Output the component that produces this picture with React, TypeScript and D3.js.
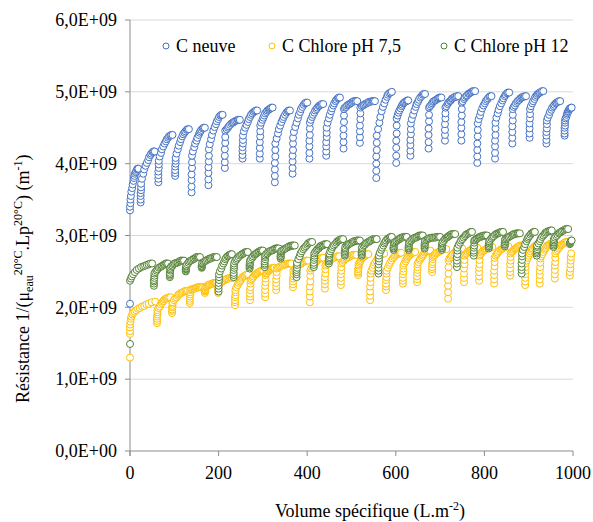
import React from "react";
import * as d3 from "d3";

// ---- data (volume in L.m-2, resistance in units of 1E7 m-1) ----
const seriesNames = ["C neuve", "C Chlore pH 7,5", "C Chlore pH 12"];
const seriesColors = ["#4472C4", "#FFC000", "#548235"];

const neuve: number[][][] = [
  [[0,205],[0,335],[0,340],[1,345],[1,350],[2,355],[3,361],[5,366],[6,371],[8,376],[9,380],[10,383],[11,386],[13,388],[14,390],[16,392],[17,393],[19,393]],
  [[24,346],[24,350],[24,355],[24,359],[25,363],[25,367],[25,372],[27,379],[30,386],[32,392],[35,397],[38,401],[41,405],[43,409],[46,412],[48,414],[51,416],[53,417],[56,417]],
  [[64,374],[64,379],[64,384],[64,389],[65,394],[65,399],[65,404],[67,410],[70,415],[72,420],[75,424],[78,428],[81,431],[83,434],[86,436],[88,438],[91,439],[93,440],[96,440]],
  [[102,383],[102,387],[102,391],[102,396],[103,400],[103,404],[103,408],[105,414],[108,420],[110,425],[113,430],[115,434],[118,438],[120,441],[123,443],[125,445],[128,447],[130,448],[133,448]],
  [[139,360],[139,368],[139,377],[139,385],[140,394],[140,402],[140,411],[142,417],[145,423],[147,428],[150,432],[152,436],[155,440],[157,443],[159,445],[161,447],[164,449],[166,450],[169,450]],
  [[177,370],[177,378],[177,387],[177,395],[178,403],[178,411],[178,420],[180,427],[183,434],[185,440],[188,446],[191,451],[194,455],[196,459],[199,462],[201,465],[204,467],[206,468],[209,468]],
  [[214,394],[214,402],[214,411],[214,420],[215,429],[215,437],[215,446],[218,448],[221,450],[223,452],[226,454],[229,456],[232,457],[234,458],[237,459],[240,460],[243,461],[245,461],[248,461]],
  [[254,407],[254,412],[254,418],[254,423],[255,428],[255,433],[255,439],[257,445],[260,450],[263,454],[266,458],[268,462],[271,465],[273,468],[276,470],[279,472],[282,473],[284,474],[287,474]],
  [[293,407],[293,414],[293,422],[293,430],[294,438],[294,445],[294,453],[296,457],[299,461],[301,464],[303,467],[305,470],[308,472],[310,474],[313,475],[315,476],[317,477],[319,478],[322,478]],
  [[327,374],[327,383],[327,392],[327,401],[328,410],[328,419],[328,428],[331,435],[334,442],[336,448],[339,453],[342,458],[345,462],[347,465],[350,468],[353,471],[356,473],[358,474],[361,474]],
  [[367,386],[367,394],[367,403],[367,411],[368,419],[368,428],[368,436],[370,444],[373,451],[376,457],[379,463],[381,468],[384,472],[386,476],[389,479],[392,482],[395,484],[397,485],[400,485]],
  [[405,407],[405,415],[405,424],[405,432],[406,440],[406,449],[406,457],[408,461],[411,465],[413,468],[416,471],[418,474],[421,476],[423,478],[426,480],[428,481],[431,482],[433,483],[436,483]],
  [[443,411],[443,417],[443,424],[443,430],[444,437],[444,443],[444,450],[446,457],[449,463],[451,468],[454,473],[456,477],[459,481],[461,484],[464,487],[466,489],[469,491],[471,492],[474,492]],
  [[482,421],[482,430],[482,439],[482,448],[483,458],[483,467],[483,476],[485,478],[488,479],[490,481],[493,482],[495,483],[498,484],[500,485],[503,486],[505,487],[508,487],[510,487],[513,487]],
  [[519,429],[519,437],[519,445],[519,453],[520,462],[520,470],[520,478],[523,480],[526,481],[528,482],[531,483],[534,484],[537,485],[539,486],[542,486],[545,487],[548,487],[550,487],[553,487]],
  [[556,380],[556,390],[556,400],[556,410],[557,419],[557,429],[557,439],[560,448],[563,457],[565,465],[568,473],[571,479],[574,484],[577,489],[580,493],[582,496],[585,498],[588,499],[591,500]],
  [[601,401],[601,411],[601,422],[601,432],[602,442],[602,453],[602,463],[604,467],[606,471],[608,474],[611,477],[613,480],[615,482],[617,484],[619,485],[621,486],[624,487],[626,488],[628,488]],
  [[633,411],[633,418],[633,426],[633,433],[634,441],[634,448],[634,456],[636,462],[639,468],[642,474],[645,479],[647,483],[650,486],[652,489],[655,492],[658,494],[661,496],[663,497],[666,497]],
  [[674,421],[674,430],[674,440],[674,449],[675,459],[675,468],[675,478],[677,480],[680,482],[682,484],[684,486],[686,487],[689,488],[691,489],[694,490],[696,491],[698,492],[700,492],[703,492]],
  [[711,432],[711,440],[711,447],[711,455],[712,463],[712,470],[712,478],[714,480],[717,483],[719,485],[722,487],[724,488],[726,490],[728,491],[731,492],[733,493],[736,493],[738,494],[741,494]],
  [[748,432],[748,441],[748,450],[748,458],[749,467],[749,476],[749,485],[751,487],[754,490],[756,492],[759,494],[761,495],[764,497],[766,498],[769,499],[771,500],[774,501],[776,501],[779,501]],
  [[784,401],[784,410],[784,419],[784,428],[785,438],[785,447],[785,456],[787,462],[790,467],[792,472],[795,477],[798,481],[801,484],[803,487],[806,489],[808,491],[811,493],[813,494],[816,494]],
  [[824,407],[824,415],[824,424],[824,432],[825,440],[825,449],[825,457],[827,464],[830,470],[832,475],[835,480],[838,484],[841,488],[843,491],[846,494],[848,496],[851,498],[853,499],[856,499]],
  [[863,428],[863,436],[863,444],[863,452],[864,460],[864,468],[864,476],[866,479],[869,481],[871,484],[874,486],[876,488],[879,489],[881,491],[884,492],[886,493],[889,493],[891,494],[894,494]],
  [[902,436],[902,442],[902,449],[902,456],[903,463],[903,469],[903,476],[905,480],[908,484],[910,487],[913,490],[915,493],[918,495],[920,497],[923,498],[925,499],[928,500],[930,501],[933,501]],
  [[940,428],[940,433],[940,439],[940,444],[941,449],[941,455],[941,460],[943,464],[946,468],[948,472],[951,475],[953,478],[956,480],[958,482],[961,484],[963,485],[966,486],[968,487],[971,487]],
  [[981,439],[981,442],[981,446],[981,450],[982,453],[982,457],[982,460],[983,463],[985,465],[986,468],[987,470],[988,472],[990,473],[991,475],[992,476],[993,477],[995,477],[996,478],[997,478]],
];

const chlore75: number[][][] = [
  [[0,130],[0,163],[0,167],[0,172],[0,176],[1,180],[2,184],[3,187],[5,190],[7,192],[10,194],[14,196],[18,198],[22,199],[27,201],[32,202],[37,204],[42,205],[49,207],[57,208]],
  [[61,178],[61,181],[61,184],[61,187],[62,190],[62,193],[62,196],[64,199],[67,201],[69,204],[72,206],[74,208],[76,209],[78,211],[81,212],[83,213],[86,213],[88,214],[91,214]],
  [[95,192],[95,195],[95,197],[95,200],[96,202],[96,205],[96,207],[99,210],[102,212],[105,214],[108,216],[110,218],[113,219],[116,220],[119,221],[122,222],[125,223],[128,223],[131,223]],
  [[135,206],[135,209],[135,212],[135,215],[136,218],[136,221],[136,224],[138,225],[141,225],[143,226],[146,226],[148,227],[150,227],[152,228],[155,228],[157,228],[160,228],[162,228],[165,228]],
  [[169,220],[169,222],[169,223],[169,224],[170,225],[170,227],[170,228],[172,229],[174,230],[176,231],[178,231],[180,232],[183,232],[185,233],[187,233],[189,234],[191,234],[193,234],[195,234]],
  [[199,220],[199,222],[199,224],[199,227],[200,229],[200,231],[200,233],[203,234],[206,235],[208,236],[211,237],[214,238],[217,239],[219,240],[222,240],[225,241],[228,241],[230,241],[233,241]],
  [[237,203],[237,207],[237,210],[237,214],[238,217],[238,221],[238,224],[240,228],[243,231],[245,234],[248,236],[250,238],[252,240],[254,242],[257,243],[259,244],[262,245],[264,246],[267,246]],
  [[271,210],[271,215],[271,219],[271,224],[272,228],[272,233],[272,237],[274,239],[277,241],[279,243],[282,245],[284,246],[286,247],[288,248],[291,249],[293,250],[296,251],[298,251],[301,251]],
  [[305,214],[305,219],[305,224],[305,230],[306,235],[306,240],[306,245],[307,247],[309,248],[311,250],[313,251],[314,252],[316,252],[317,253],[319,254],[321,255],[323,255],[324,255],[326,255]],
  [[330,224],[330,229],[330,234],[330,239],[331,244],[331,249],[331,254],[334,255],[337,256],[339,257],[342,258],[345,259],[348,259],[350,260],[353,260],[356,261],[359,261],[361,261],[364,261]],
  [[368,228],[368,232],[368,236],[368,240],[369,243],[369,247],[369,251],[372,253],[375,255],[377,257],[380,259],[383,260],[386,261],[388,262],[391,263],[394,264],[397,265],[399,265],[402,265]],
  [[406,207],[406,215],[406,222],[406,229],[407,236],[407,244],[407,251],[409,254],[412,256],[414,259],[417,261],[419,263],[421,264],[423,266],[426,267],[428,268],[431,268],[433,269],[436,269]],
  [[440,226],[440,232],[440,237],[440,242],[441,247],[441,253],[441,258],[443,260],[446,262],[448,264],[451,265],[454,267],[457,268],[459,269],[462,269],[464,270],[467,271],[469,271],[472,271]],
  [[476,231],[476,236],[476,241],[476,246],[477,251],[477,256],[477,261],[480,263],[483,265],[485,267],[488,268],[491,269],[494,270],[497,271],[500,272],[502,273],[505,273],[508,273],[511,273]],
  [[515,245],[515,248],[515,250],[515,253],[516,255],[516,258],[516,260],[518,262],[520,264],[521,266],[523,268],[525,269],[527,270],[529,271],[531,272],[532,273],[534,274],[536,274],[538,274]],
  [[542,210],[542,216],[542,222],[542,229],[543,235],[543,241],[543,247],[545,251],[548,255],[550,259],[553,262],[556,265],[559,268],[561,270],[564,272],[566,273],[569,274],[571,275],[574,275]],
  [[578,224],[578,229],[578,233],[578,238],[579,242],[579,247],[579,251],[582,255],[585,259],[587,262],[590,265],[593,268],[596,270],[598,272],[601,273],[604,274],[607,275],[609,276],[612,276]],
  [[616,233],[616,237],[616,241],[616,246],[617,250],[617,254],[617,258],[619,261],[622,264],[624,267],[626,269],[628,271],[631,272],[633,274],[635,275],[637,276],[640,276],[642,277],[644,277]],
  [[648,235],[648,239],[648,243],[648,248],[649,252],[649,256],[649,260],[651,263],[654,266],[656,268],[659,270],[661,272],[663,274],[665,276],[668,277],[670,278],[673,278],[675,279],[678,279]],
  [[682,249],[682,253],[682,256],[682,260],[683,263],[683,267],[683,270],[685,272],[688,273],[690,275],[693,276],[696,277],[699,278],[701,279],[704,280],[706,281],[709,281],[711,281],[714,281]],
  [[718,212],[718,221],[718,230],[718,238],[719,247],[719,256],[719,265],[721,268],[724,270],[726,272],[729,274],[732,276],[735,278],[737,279],[740,280],[742,281],[745,281],[747,282],[750,282]],
  [[754,235],[754,241],[754,247],[754,254],[755,260],[755,266],[755,272],[757,274],[760,275],[762,277],[765,278],[767,279],[769,280],[771,281],[774,282],[776,283],[779,283],[781,283],[784,283]],
  [[788,237],[788,243],[788,249],[788,255],[789,260],[789,266],[789,272],[791,274],[794,276],[796,278],[799,279],[801,280],[803,281],[805,282],[808,283],[810,284],[813,284],[815,284],[818,284]],
  [[822,233],[822,239],[822,245],[822,251],[823,257],[823,263],[823,269],[825,272],[828,274],[830,276],[833,278],[836,280],[839,281],[841,282],[844,283],[846,284],[849,285],[851,285],[854,285]],
  [[858,244],[858,249],[858,254],[858,260],[859,265],[859,270],[859,275],[861,277],[864,278],[866,280],[869,281],[871,282],[873,283],[875,284],[878,285],[880,286],[883,286],[885,286],[888,286]],
  [[892,231],[892,236],[892,241],[892,246],[893,251],[893,256],[893,261],[895,265],[898,269],[900,272],[902,275],[904,278],[907,280],[909,282],[912,284],[914,285],[916,286],[918,287],[921,287]],
  [[925,233],[925,239],[925,245],[925,251],[926,256],[926,262],[926,268],[928,271],[931,274],[933,277],[936,280],[938,282],[940,284],[942,286],[945,287],[947,288],[950,289],[952,289],[955,289]],
  [[959,240],[959,246],[959,252],[959,258],[960,263],[960,269],[960,275],[962,278],[965,280],[967,282],[970,284],[972,286],[974,287],[976,288],[979,289],[981,290],[984,291],[986,291],[989,291]],
  [[993,244],[993,249],[994,254],[994,260],[995,265],[995,270],[996,275]],
];

const chlore12: number[][][] = [
  [[0,149],[0,237],[2,240],[4,243],[7,246],[11,249],[15,252],[20,254],[25,256],[30,257],[34,258],[38,259],[42,260],[46,261],[50,261]],
  [[54,230],[54,233],[54,236],[54,238],[55,241],[55,244],[55,247],[57,249],[60,251],[62,253],[65,255],[68,256],[71,257],[73,258],[76,259],[78,260],[81,261],[83,261],[86,261]],
  [[90,242],[90,244],[90,246],[90,248],[91,251],[91,253],[91,255],[93,257],[96,258],[98,260],[101,261],[104,262],[107,262],[109,263],[112,264],[114,265],[117,265],[119,265],[122,265]],
  [[126,250],[126,251],[126,253],[126,254],[127,255],[127,257],[127,258],[129,260],[132,262],[134,264],[137,265],[140,266],[143,267],[145,268],[148,269],[150,270],[153,270],[155,270],[158,270]],
  [[162,255],[162,256],[162,257],[162,258],[163,260],[163,261],[163,262],[166,263],[169,264],[171,265],[174,266],[177,267],[180,268],[182,268],[185,269],[188,270],[191,270],[193,270],[196,270]],
  [[200,222],[200,226],[200,230],[200,234],[201,238],[201,242],[201,246],[203,250],[206,254],[208,258],[211,261],[213,264],[215,267],[217,269],[220,271],[222,272],[225,273],[227,274],[230,274]],
  [[234,242],[234,245],[234,248],[234,252],[235,255],[235,258],[235,261],[237,264],[240,266],[242,268],[245,270],[248,272],[251,273],[253,274],[256,275],[258,276],[261,277],[263,277],[266,277]],
  [[270,254],[270,256],[270,258],[270,260],[271,261],[271,263],[271,265],[273,267],[276,269],[278,271],[281,273],[283,274],[285,275],[287,276],[290,277],[292,278],[295,279],[297,279],[300,279]],
  [[304,256],[304,259],[304,261],[304,264],[305,267],[305,270],[305,272],[307,274],[310,275],[312,277],[315,278],[318,279],[321,279],[323,280],[326,281],[328,282],[331,282],[333,282],[336,282]],
  [[340,268],[340,270],[340,271],[340,273],[341,275],[341,277],[341,278],[343,279],[346,280],[348,281],[351,282],[354,283],[357,284],[359,285],[362,285],[364,286],[367,286],[369,286],[372,286]],
  [[376,242],[376,246],[376,249],[376,252],[377,255],[377,259],[377,262],[380,267],[383,271],[385,275],[388,278],[391,281],[394,283],[397,285],[400,287],[402,289],[405,290],[408,291],[411,291]],
  [[415,256],[415,259],[415,262],[415,266],[416,269],[416,272],[416,275],[418,277],[421,279],[423,281],[426,282],[428,284],[430,285],[432,286],[435,286],[437,287],[440,288],[442,288],[445,288]],
  [[449,261],[449,264],[449,266],[449,268],[450,270],[450,273],[450,275],[452,278],[455,281],[457,284],[460,286],[463,288],[466,290],[468,292],[471,293],[473,294],[476,294],[478,295],[481,295]],
  [[485,272],[485,274],[485,276],[485,278],[486,280],[486,282],[486,284],[489,286],[492,287],[494,288],[497,289],[500,290],[503,291],[505,292],[508,292],[511,293],[514,293],[516,293],[519,293]],
  [[523,272],[523,274],[523,276],[523,278],[524,280],[524,282],[524,284],[527,286],[530,287],[532,289],[535,290],[538,291],[541,292],[543,293],[546,294],[549,295],[552,295],[554,295],[557,295]],
  [[561,247],[561,251],[561,255],[561,260],[562,264],[562,268],[562,272],[564,276],[567,280],[569,283],[572,286],[574,289],[576,291],[578,293],[581,295],[583,296],[586,297],[588,298],[591,298]],
  [[595,280],[595,282],[595,283],[595,285],[596,287],[596,289],[596,290],[598,291],[601,292],[603,293],[606,294],[608,295],[610,296],[612,297],[615,297],[617,298],[620,298],[622,298],[625,298]],
  [[629,280],[629,282],[629,283],[629,285],[630,287],[630,289],[630,290],[632,292],[635,293],[637,295],[640,296],[643,297],[646,297],[648,298],[651,299],[653,300],[656,300],[658,300],[661,300]],
  [[665,282],[665,284],[665,286],[665,288],[666,289],[666,291],[666,293],[669,294],[672,295],[674,296],[677,296],[680,297],[683,297],[686,297],[689,297],[691,298],[694,298],[697,298],[700,298]],
  [[704,280],[704,282],[704,283],[704,285],[705,287],[705,289],[705,290],[707,292],[710,294],[712,296],[715,297],[717,298],[719,299],[721,300],[724,301],[726,302],[729,302],[731,302],[734,302]],
  [[738,256],[738,261],[738,265],[738,270],[739,274],[739,279],[739,283],[742,287],[745,290],[747,293],[750,295],[753,297],[756,299],[758,301],[761,302],[764,303],[767,304],[769,305],[772,305]],
  [[776,272],[776,276],[776,279],[776,283],[777,286],[777,290],[777,293],[779,294],[782,295],[784,296],[787,297],[789,298],[791,298],[793,299],[796,299],[798,300],[801,300],[803,300],[806,300]],
  [[810,282],[810,284],[810,285],[810,287],[811,289],[811,291],[811,292],[813,294],[816,296],[818,298],[821,299],[824,301],[827,302],[829,303],[832,303],[834,304],[837,305],[839,305],[842,305]],
  [[846,285],[846,287],[846,288],[846,290],[847,292],[847,294],[847,295],[850,296],[853,297],[855,298],[858,299],[861,300],[864,301],[866,302],[869,302],[872,303],[875,303],[877,303],[880,303]],
  [[884,247],[884,252],[884,256],[884,261],[885,266],[885,271],[885,275],[887,280],[890,284],[892,288],[895,292],[897,295],[899,297],[901,299],[904,301],[906,303],[909,304],[911,305],[914,305]],
  [[918,272],[918,275],[918,277],[918,279],[919,281],[919,284],[919,286],[922,289],[925,292],[927,295],[930,298],[933,300],[936,302],[938,304],[941,305],[944,306],[947,306],[949,307],[952,307]],
  [[956,284],[956,286],[956,288],[956,290],[957,291],[957,293],[957,295],[959,297],[962,299],[965,301],[968,303],[970,304],[973,305],[975,306],[978,307],[981,308],[984,309],[986,309],[989,309]],
  [[993,288],[993,289],[994,290],[994,291],[995,292],[996,293],[997,293]],
];

const xTicks = [0, 200, 400, 600, 800, 1000];
const yTicks = [0, 1e9, 2e9, 3e9, 4e9, 5e9, 6e9];
const yTickLabels = ["0,0E+00", "1,0E+09", "2,0E+09", "3,0E+09", "4,0E+09", "5,0E+09", "6,0E+09"];
const UNIT = 1e7;

const W = 593;
const H = 522;
const FONT = "'Liberation Serif', 'Times New Roman', serif";

export default function App() {
  const x = d3.scaleLinear().domain([0, 1000]).range([130, 573]);
  const y = d3.scaleLinear().domain([0, 6e9]).range([451, 20]);
  const all = [neuve, chlore75, chlore12];
  const axisColor = "#8c8c8c";
  const legendX = [166, 272, 444];

  return (
    <svg width={W} height={H} style={{ position: "absolute", left: 0, top: 0, background: "#fff" }} fontFamily={FONT}>
      <rect x={0} y={0} width={W} height={H} fill="#fff" />
      {yTicks.slice(1).map((t) => (
        <line key={"g" + t} x1={x(0)} x2={x(1000)} y1={y(t)} y2={y(t)} stroke="#d9d9d9" strokeWidth={1} />
      ))}
      <line x1={x(0)} x2={x(0)} y1={y(6e9)} y2={y(0) + 5} stroke={axisColor} strokeWidth={1} />
      <line x1={x(0)} x2={x(1000)} y1={y(0)} y2={y(0)} stroke={axisColor} strokeWidth={1} />
      {yTicks.map((t, i) => (
        <g key={"yt" + t}>
          <line x1={x(0) - 5} x2={x(0)} y1={y(t)} y2={y(t)} stroke={axisColor} />
          <text x={117} y={y(t)} dy="0.35em" textAnchor="end" fontSize={18} fill="#000">
            {yTickLabels[i]}
          </text>
        </g>
      ))}
      {xTicks.map((t) => (
        <g key={"xt" + t}>
          <line x1={x(t)} x2={x(t)} y1={y(0)} y2={y(0) + 5} stroke={axisColor} />
          <text x={x(t)} y={479} textAnchor="middle" fontSize={18} fill="#000">
            {t}
          </text>
        </g>
      ))}
      {all.map((series, si) => (
        <g key={"s" + si}>
          {series.flat().map((p, pi) => (
            <circle
              key={pi}
              cx={x(p[0])}
              cy={y(p[1] * UNIT)}
              r={3.5}
              fill="#fff"
              stroke={seriesColors[si]}
              strokeWidth={1}
            />
          ))}
        </g>
      ))}
      {seriesNames.map((n, i) => (
        <g key={"l" + i}>
          <circle cx={legendX[i]} cy={46} r={3} fill="#fff" stroke={seriesColors[i]} strokeWidth={1} />
          <text x={legendX[i] + 10} y={52} fontSize={18} fill="#000">
            {n}
          </text>
        </g>
      ))}
      <text x={370} y={517} textAnchor="middle" fontSize={18} fill="#000">
        Volume spécifique (L.m<tspan fontSize={12} dy={-7}>-2</tspan>
        <tspan dy={7}>)</tspan>
      </text>
      <text transform="translate(29,403) rotate(-90)" fontSize={18} fill="#000">
        Résistance 1/(μ<tspan fontSize={12} dy={4}>eau</tspan>
        <tspan fontSize={12} dy={-11}>20°C</tspan>
        <tspan dy={7}>.Lp</tspan>
        <tspan fontSize={12} dy={-7}>20°C</tspan>
        <tspan dy={7}>) (m</tspan>
        <tspan fontSize={12} dy={-7}>-1</tspan>
        <tspan dy={7}>)</tspan>
      </text>
    </svg>
  );
}
